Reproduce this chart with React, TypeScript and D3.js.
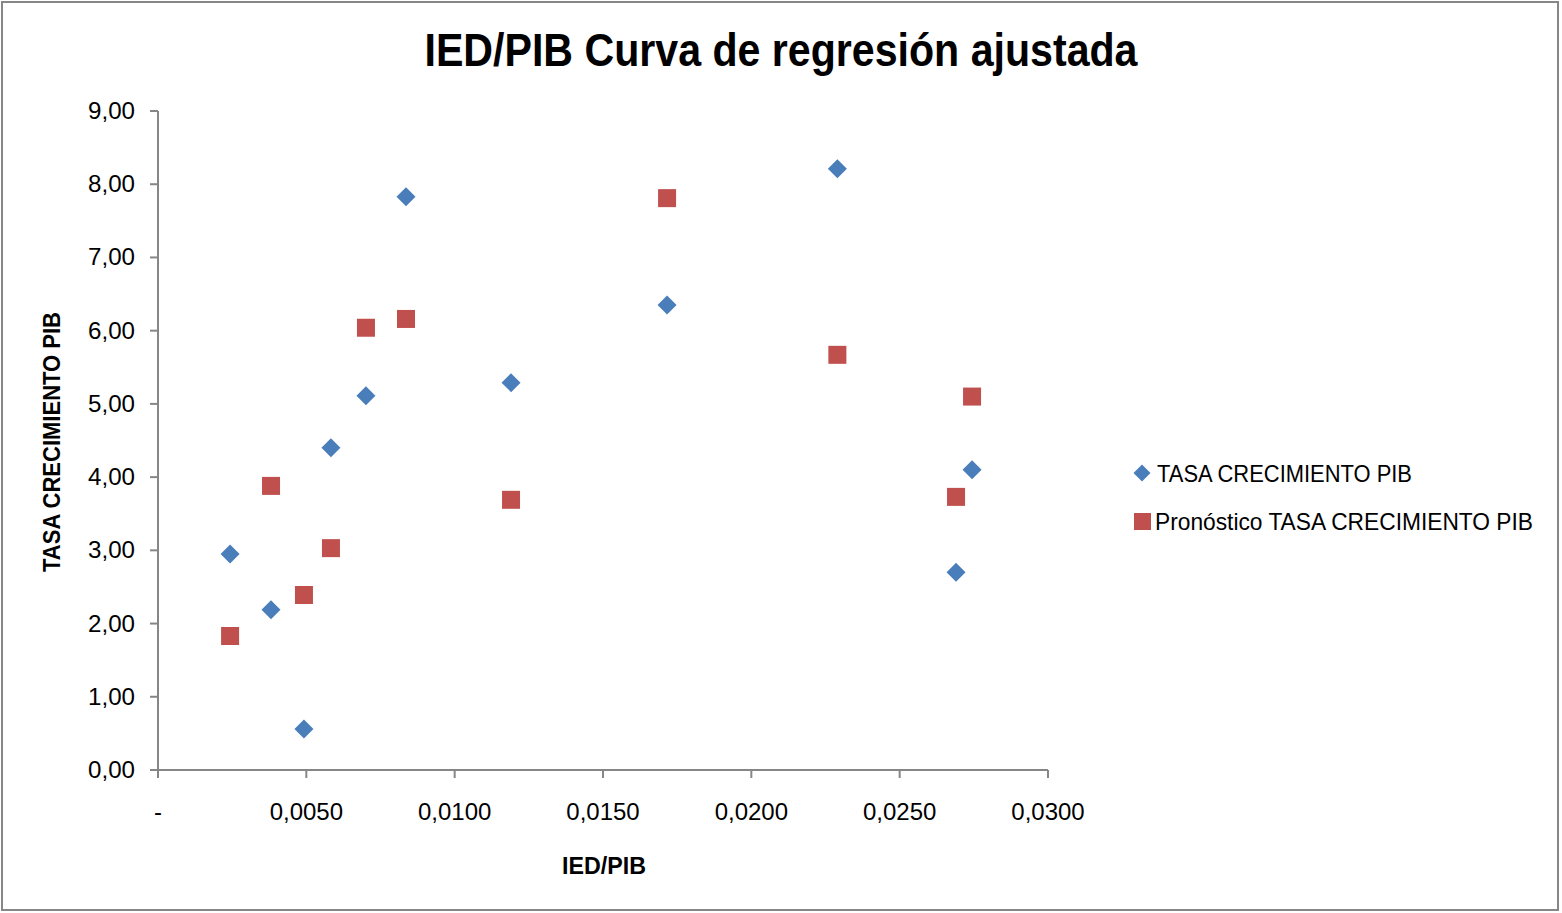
import React from "react";
import * as d3 from "d3";

const ied: number[] = [0.00243, 0.00381, 0.00492, 0.00583, 0.00701, 0.00836, 0.0119, 0.01716, 0.0229, 0.0269, 0.02744];
const tasaCrecimiento: number[] = [2.95, 2.19, 0.56, 4.4, 5.11, 7.83, 5.29, 6.35, 8.21, 2.7, 4.1];
const pronostico: number[] = [1.83, 3.88, 2.39, 3.03, 6.04, 6.16, 3.69, 7.81, 5.67, 3.73, 5.1];
const xTicks: number[] = [0, 0.005, 0.01, 0.015, 0.02, 0.025, 0.03];
const yTicks: number[] = [0, 1, 2, 3, 4, 5, 6, 7, 8, 9];
const seriesNames: string[] = ["TASA CRECIMIENTO PIB", "Pronóstico TASA CRECIMIENTO PIB"];

const W = 1562;
const H = 913;
const FONT = "'Liberation Sans Narrow', 'Arial Narrow', 'Liberation Sans', sans-serif";
const AXIS = "#868686";
const BLUE = "#4a7ebb";
const RED = "#c0504d";

export default function App() {
  const x = d3.scaleLinear().domain([0, 0.03]).range([158, 1048]);
  const y = d3.scaleLinear().domain([0, 9]).range([770, 111]);
  const fmtX = (v: number) => (v === 0 ? "-" : v.toFixed(4).replace(".", ","));
  const fmtY = (v: number) => v.toFixed(2).replace(".", ",");
  const diamond = (cx: number, cy: number, r: number) =>
    `M${cx},${cy - r}L${cx + r},${cy}L${cx},${cy + r}L${cx - r},${cy}Z`;

  return (
    <svg width={W} height={H} style={{ position: "absolute", left: 0, top: 0, display: "block" }}>
      <rect x={0} y={0} width={W} height={H} fill="#fff" />
      <rect x={2} y={2} width={1556} height={908} fill="none" stroke={AXIS} strokeWidth={2} />
      <text x={781} y={66} textAnchor="middle" fontFamily={FONT} fontWeight="bold" fontSize={47} fill="#000"
        textLength={713} lengthAdjust="spacingAndGlyphs">
        IED/PIB Curva de regresión ajustada
      </text>
      {/* y axis */}
      <line x1={158} y1={y(9)} x2={158} y2={y(0)} stroke={AXIS} strokeWidth={2} />
      {yTicks.map((t) => (
        <g key={"y" + t}>
          <line x1={150} x2={158} y1={y(t)} y2={y(t)} stroke={AXIS} strokeWidth={2} />
          <text x={135} y={y(t) + 8} textAnchor="end" fontFamily={FONT} fontSize={24} fill="#000"
            textLength={47} lengthAdjust="spacingAndGlyphs">
            {fmtY(t)}
          </text>
        </g>
      ))}
      {/* x axis */}
      <line x1={x(0)} y1={770} x2={x(0.03)} y2={770} stroke={AXIS} strokeWidth={2} />
      {xTicks.map((t) => (
        <g key={"x" + t}>
          <line x1={x(t)} x2={x(t)} y1={770} y2={778} stroke={AXIS} strokeWidth={2} />
          <text x={x(t)} y={820} textAnchor="middle" fontFamily={FONT} fontSize={24} fill="#000">
            {fmtX(t)}
          </text>
        </g>
      ))}
      <text x={604} y={874} textAnchor="middle" fontFamily={FONT} fontWeight="bold" fontSize={24} fill="#000"
        textLength={84} lengthAdjust="spacingAndGlyphs">
        IED/PIB
      </text>
      <text
        transform={`translate(60,442) rotate(-90)`}
        textAnchor="middle"
        fontFamily={FONT}
        fontWeight="bold"
        fontSize={24}
        fill="#000"
        textLength={260}
        lengthAdjust="spacingAndGlyphs"
      >
        TASA CRECIMIENTO PIB
      </text>
      {/* series */}
      {ied.map((v, i) => (
        <path key={"b" + i} d={diamond(x(v), y(tasaCrecimiento[i]), 9.5)} fill={BLUE} />
      ))}
      {ied.map((v, i) => (
        <rect key={"r" + i} x={x(v) - 9} y={y(pronostico[i]) - 9} width={18} height={18} fill={RED} />
      ))}
      {/* legend */}
      <path d={diamond(1142, 473, 8.5)} fill={BLUE} />
      <text x={1157} y={482} fontFamily={FONT} fontSize={24} fill="#000" textLength={255} lengthAdjust="spacingAndGlyphs">
        {seriesNames[0]}
      </text>
      <rect x={1134} y={513} width={17} height={17} fill={RED} />
      <text x={1155} y={530} fontFamily={FONT} fontSize={24} fill="#000" textLength={378} lengthAdjust="spacingAndGlyphs">
        {seriesNames[1]}
      </text>
    </svg>
  );
}
